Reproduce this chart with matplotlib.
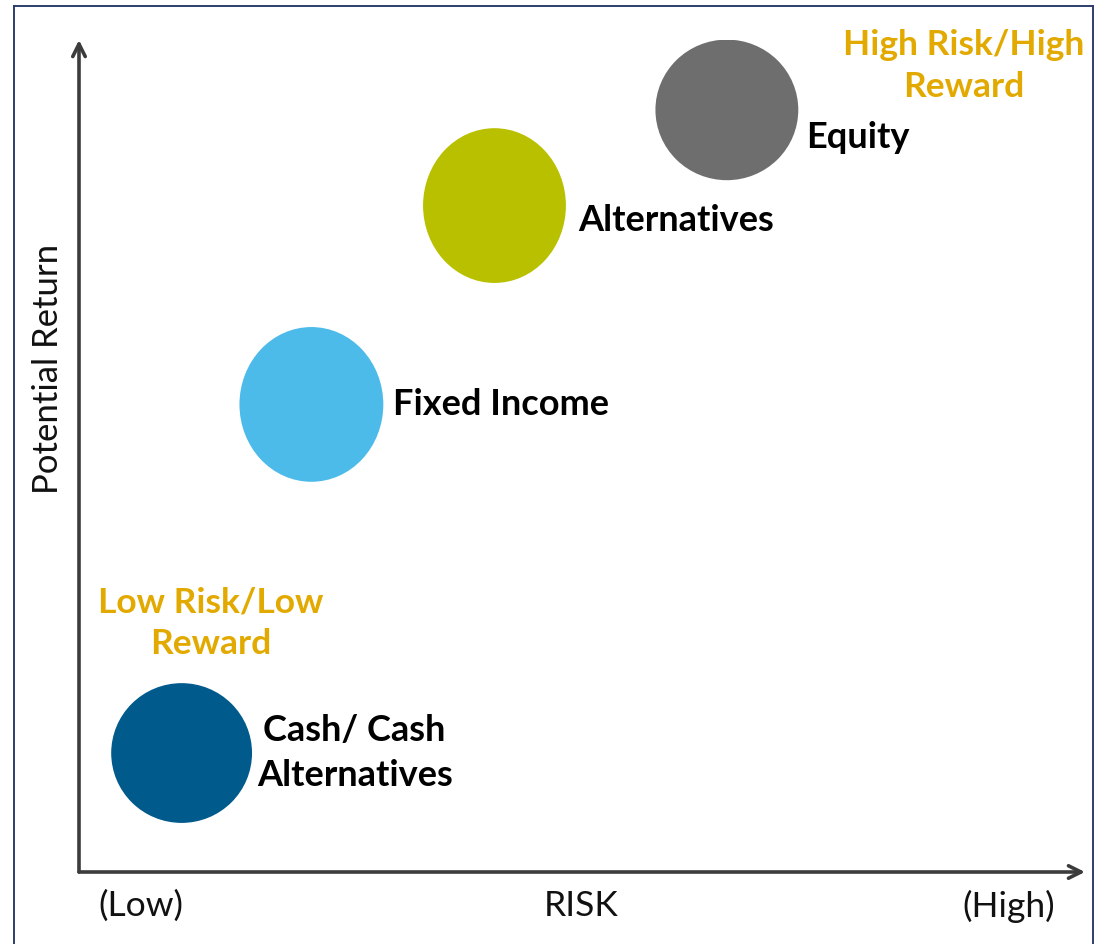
"""Risk vs potential return bubble chart for asset classes."""

import matplotlib

matplotlib.use("Agg")

import matplotlib.pyplot as plt  # noqa: E402
from matplotlib.lines import Line2D  # noqa: E402
from matplotlib.patches import Ellipse  # noqa: E402

# asset classes, risk (x) and potential return (y) on a 0-10 scale
assets = ["Cash/ Cash\nAlternatives", "Fixed Income", "Alternatives", "Equity"]
risk = [1.02, 2.31, 4.13, 6.44]
potential_return = [1.43, 5.62, 8.01, 9.16]

zones = ["Low Risk/Low\nReward", "High Risk/High\nReward"]
zone_risk = [1.31, 8.79]
zone_return = [2.99, 9.69]

axis_ends = ["(Low)", "RISK", "(High)"]

# styling
colors = ["#005A8C", "#4CBBEA", "#B8C000", "#6D6E6D"]
bubble_w = [1.40, 1.43, 1.42, 1.42]
bubble_h = [1.68, 1.86, 1.86, 1.69]
label_offsets = [(173, 0), (82, 0), (84, -15), (79, -28)]
label_ha = ["center", "left", "left", "left"]
GOLD = "#E2AA00"
AXIS = "#3C3C3C"
FONT = "Lato"

W, H = 1097, 944
fig = plt.figure(figsize=(W / 100, H / 100), dpi=100)
fig.patch.set_facecolor("white")

# outer frame (left, top, right)
frame = "#2E3E6B"
for xs, ys in (([14, 14], [6, H]), ([14, 1093], [6, 6]), ([1093, 1093], [6, H])):
    fig.add_artist(Line2D([x / W for x in xs], [1 - y / H for y in ys], color=frame, lw=1.4))

x0, x1, y_top, y_bot = 79, 1085, 40, 872
ax = fig.add_axes([x0 / W, 1 - y_bot / H, (x1 - x0) / W, (y_bot - y_top) / H])
ax.set_xlim(0, 10)
ax.set_ylim(0, 10)
ax.axis("off")

# axis arrows
arrow = dict(arrowstyle="->,head_length=0.9,head_width=0.45", color=AXIS, lw=2.6, shrinkA=0, shrinkB=0)
ax.annotate("", xy=(1, 0), xytext=(0, 0), xycoords="axes fraction", arrowprops=arrow)
ax.annotate("", xy=(0, 1), xytext=(0, 0), xycoords="axes fraction", arrowprops=arrow)

for i, name in enumerate(assets):
    ax.add_patch(Ellipse((risk[i], potential_return[i]), bubble_w[i], bubble_h[i], facecolor=colors[i], edgecolor="none"))
    ax.annotate(name, (risk[i], potential_return[i]), xytext=label_offsets[i], textcoords="offset pixels",
                ha=label_ha[i], va="center", multialignment="center", linespacing=1.42,
                fontsize=26, fontweight="bold", family=FONT, color="black")

for name, zx, zy in zip(zones, zone_risk, zone_return):
    ax.text(zx, zy, name, ha="center", va="center", multialignment="center", linespacing=1.4,
            fontsize=25.5, fontweight="bold", family=FONT, color=GOLD)

for label, px in zip(axis_ends, [141, 581, 1009]):
    fig.text(px / W, 1 - 906 / H, label, ha="center", va="center", fontsize=25.5, family=FONT, color="#111111")

fig.text(48 / W, 1 - 369 / H, "Potential Return", rotation=90, ha="center", va="center",
         fontsize=25, family=FONT, color="#111111")

fig.savefig("out.png", dpi=100)
